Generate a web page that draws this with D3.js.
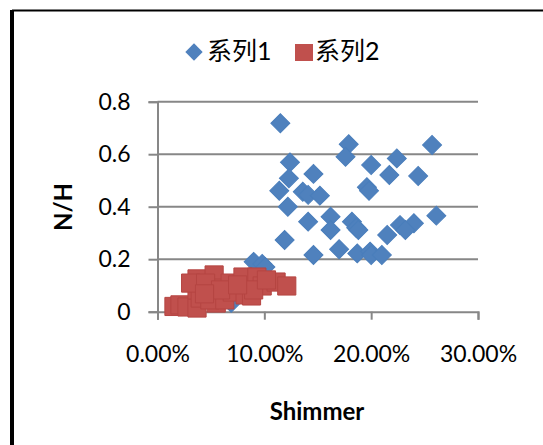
<!DOCTYPE html>
<html><head><meta charset="utf-8">
<script src="https://cdn.jsdelivr.net/npm/d3@7"></script>
<style>html,body{margin:0;padding:0;background:#fff;}svg{display:block;}</style>
</head><body>
<script>
// Data
const xTicks = [0, 0.1, 0.2, 0.3];
const yTicks = [0, 0.2, 0.4, 0.6, 0.8];
const seriesNames = ["系列1", "系列2"];
const series1X = [0.115,0.179,0.176,0.124,0.123,0.146,0.114,0.136,0.141,0.152,0.122,0.141,0.162,0.162,0.182,0.186,0.119,0.146,0.170,0.187,0.090,0.098,0.069,0.257,0.200,0.224,0.217,0.244,0.196,0.198,0.261,0.227,0.240,0.232,0.215,0.199,0.200,0.210,0.101,0.188];
const series1Y = [0.718,0.638,0.590,0.569,0.508,0.525,0.461,0.457,0.445,0.442,0.400,0.343,0.362,0.311,0.343,0.320,0.273,0.216,0.238,0.222,0.190,0.182,0.034,0.635,0.559,0.584,0.521,0.517,0.474,0.461,0.366,0.330,0.337,0.311,0.292,0.229,0.216,0.216,0.170,0.311];
const series2X = [0.0154,0.021,0.0276,0.037,0.037,0.037,0.040,0.053,0.053,0.055,0.049,0.063,0.068,0.070,0.080,0.082,0.088,0.093,0.098,0.090,0.111,0.121,0.102,0.031,0.045,0.059,0.075,0.044];
const series2Y = [0.020,0.026,0.018,0.014,0.125,0.083,0.052,0.140,0.090,0.033,0.045,0.045,0.109,0.075,0.132,0.064,0.060,0.132,0.098,0.083,0.113,0.098,0.121,0.109,0.109,0.083,0.102,0.068];

const W = 543, H = 445;
const svg = d3.select("body").append("svg").attr("width", W).attr("height", H);
const font = "Lato, 'Noto Sans CJK SC', sans-serif";

// frame
svg.append("line").attr("x1", 12).attr("x2", W).attr("y1", 10.5).attr("y2", 10.5).attr("stroke", "#000").attr("stroke-width", 2);
svg.append("line").attr("x1", 12).attr("x2", 12).attr("y1", 10).attr("y2", H).attr("stroke", "#000").attr("stroke-width", 4);

const x = d3.scaleLinear().domain([0, 0.3]).range([157.5, 478]);
const y = d3.scaleLinear().domain([0, 0.8]).range([311.7, 101.7]);
const grey = "#878787";

// gridlines
svg.append("g").selectAll("line").data(yTicks.filter(d => d > 0)).join("line")
  .attr("x1", x(0)).attr("x2", x(0.3)).attr("y1", d => y(d)).attr("y2", d => y(d))
  .attr("stroke", grey).attr("stroke-width", 2);

// axes
const xAxis = svg.append("g").attr("transform", `translate(0,${y(0)})`)
  .call(d3.axisBottom(x).tickValues(xTicks).tickFormat(d => d3.format(".2%")(d)).tickSizeOuter(0).tickSize(8).tickPadding(26));
const yAxis = svg.append("g").attr("transform", `translate(${x(0)},0)`)
  .call(d3.axisLeft(y).tickValues(yTicks).tickFormat(d => d === 0 ? "0" : d3.format(".1f")(d)).tickSizeOuter(0).tickSize(9).tickPadding(18));
[xAxis, yAxis].forEach(g => {
  g.select(".domain").attr("stroke", grey).attr("stroke-width", 2);
  g.selectAll(".tick line").attr("stroke", grey).attr("stroke-width", 2);
  g.selectAll(".tick text").attr("fill", "#000").attr("font-family", font).attr("font-size", 23);
});

// series 1: diamonds, series 2: squares
const s1 = series1X.map((v, i) => [v, series1Y[i]]);
const s2 = series2X.map((v, i) => [v, series2Y[i]]);
const diamond = d3.symbol(d3.symbolSquare, 180)();
const square = d3.symbol(d3.symbolSquare, 330)();
svg.append("g").selectAll("path").data(s1).join("path")
  .attr("d", diamond)
  .attr("transform", d => `translate(${x(d[0])},${y(d[1])}) rotate(45)`)
  .attr("fill", "#4F81BD").attr("stroke", "#4A7EBB").attr("stroke-width", 1);
svg.append("g").selectAll("path").data(s2).join("path")
  .attr("d", square)
  .attr("transform", d => `translate(${x(d[0])},${y(d[1])})`)
  .attr("fill", "#C0504D").attr("stroke", "#B54542").attr("stroke-width", 1);

// legend
const leg = svg.append("g");
leg.append("path").attr("d", d3.symbol(d3.symbolSquare, 150)()).attr("transform", "translate(194,52) rotate(45)").attr("fill", "#4F81BD");
leg.append("text").attr("x", 207).attr("y", 50).attr("dominant-baseline", "central").attr("font-family", font).attr("font-size", 25).text(seriesNames[0]);
leg.append("rect").attr("x", 295).attr("y", 44).attr("width", 18).attr("height", 17).attr("fill", "#C0504D");
leg.append("text").attr("x", 315).attr("y", 50).attr("dominant-baseline", "central").attr("font-family", font).attr("font-size", 25).text(seriesNames[1]);

// axis titles
svg.append("text").attr("x", 317).attr("y", 410).attr("text-anchor", "middle").attr("dominant-baseline", "central")
  .attr("font-family", font).attr("font-weight", "bold").attr("font-size", 24).text("Shimmer");
svg.append("text").attr("transform", "translate(62,207) rotate(-90)").attr("text-anchor", "middle").attr("dominant-baseline", "central")
  .attr("font-family", font).attr("font-weight", "bold").attr("font-size", 24).text("N/H");
</script>
</body></html>
